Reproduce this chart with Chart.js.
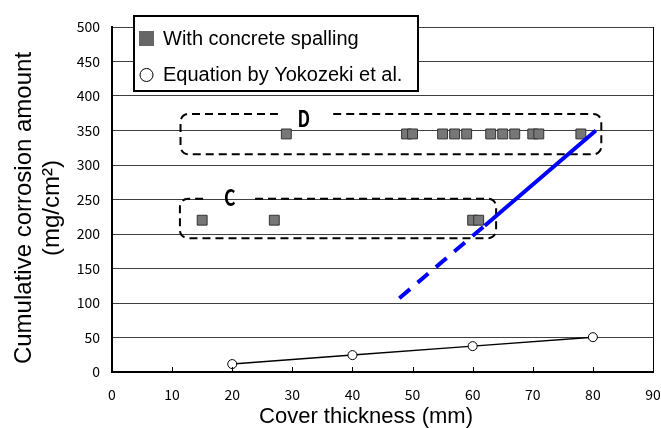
<!DOCTYPE html>
<html>
<head>
<meta charset="utf-8">
<title>Cumulative corrosion amount vs cover thickness</title>
<script src="https://cdn.jsdelivr.net/npm/chart.js@4/dist/chart.umd.min.js"></script>
<style>
  html, body { margin: 0; padding: 0; background: #fff; }
  #wrap { width: 661px; height: 428px; }
</style>
</head>
<body>
<div id="wrap"><canvas id="chart" width="661" height="428"></canvas></div>
<script>
// data
const spallingCX = [15, 27, 60, 61];
const spallingCY = [220, 220, 220, 220];
const spallingDX = [29, 49, 50, 55, 57, 59, 63, 65, 67, 70, 71, 78];
const spallingDY = [345, 345, 345, 345, 345, 345, 345, 345, 345, 345, 345, 345];
const yokozekiX = [20, 40, 60, 80];
const yokozekiY = [11.5, 24.5, 37.5, 50.5];
const trendDashedX = [47.8, 62];
const trendDashedY = [107, 212];
const trendSolidX = [62, 80.5];
const trendSolidY = [212, 350];
const xTicks = [0, 10, 20, 30, 40, 50, 60, 70, 80, 90];
const yTicks = [0, 50, 100, 150, 200, 250, 300, 350, 400, 450, 500];

// dashed group outlines (data units)
const groupC = { label: 'C', x: [11.3, 63.9], y: [194, 251], gap: [15.2, 23.8], at: [19.6, 252] };
const groupD = { label: 'D', x: [11.4, 81.4], y: [315.5, 374], gap: [27.6, 36.8], at: [31.9, 367] };

const legendItems = ['With concrete spalling', 'Equation by Yokozeki et al.'];
const xTitle = 'Cover thickness (mm)';
const yTitle = ['Cumulative corrosion amount', '(mg/cm\u00B2)'];

const tickFont = "'Noto Sans CJK JP', 'Liberation Sans', sans-serif";
const textFont = "'Liberation Sans', Arial, sans-serif";

const pts = (xs, ys) => xs.map((x, i) => ({ x, y: ys[i] }));

const groupsPlugin = {
  id: 'groups',
  beforeDatasetsDraw(chart) {
    const { ctx, scales: { x, y } } = chart;
    ctx.save();
    ctx.strokeStyle = '#000';
    ctx.lineWidth = 2;
    ctx.setLineDash([8, 5]);
    [groupC, groupD].forEach((g) => {
      const l = x.getPixelForValue(g.x[0]);
      const r = x.getPixelForValue(g.x[1]);
      const t = y.getPixelForValue(g.y[1]);
      const b = y.getPixelForValue(g.y[0]);
      const g0 = x.getPixelForValue(g.gap[0]);
      const g1 = x.getPixelForValue(g.gap[1]);
      const rad = 8;
      ctx.beginPath();
      ctx.moveTo(g1, t);
      ctx.arcTo(r, t, r, b, rad);
      ctx.arcTo(r, b, l, b, rad);
      ctx.arcTo(l, b, l, t, rad);
      ctx.arcTo(l, t, g0, t, rad);
      ctx.lineTo(g0, t);
      ctx.stroke();
    });
    ctx.setLineDash([]);
    ctx.fillStyle = '#000';
    ctx.font = "bold 22px " + tickFont;
    ctx.textAlign = 'center';
    ctx.textBaseline = 'middle';
    [groupC, groupD].forEach((g) => {
      ctx.save();
      ctx.translate(x.getPixelForValue(g.at[0]), y.getPixelForValue(g.at[1]));
      ctx.scale(0.8, 1);
      ctx.fillText(g.label, 0, 0);
      ctx.restore();
    });
    ctx.restore();
  },
};

const framePlugin = {
  id: 'frame',
  afterDraw(chart) {
    const { ctx, chartArea: a, scales: { x } } = chart;
    ctx.save();
    ctx.strokeStyle = '#000';
    ctx.lineWidth = 1;
    // right edge of plot
    ctx.beginPath();
    ctx.moveTo(Math.round(a.right) + 0.5, a.top);
    ctx.lineTo(Math.round(a.right) + 0.5, a.bottom);
    ctx.stroke();
    // inward x ticks
    x.ticks.forEach((t, i) => {
      const px = Math.round(x.getPixelForTick(i)) + 0.5;
      ctx.beginPath();
      ctx.moveTo(px, a.bottom);
      ctx.lineTo(px, a.bottom - 5);
      ctx.stroke();
    });

    // axis titles
    ctx.fillStyle = '#000';
    ctx.font = '22px ' + textFont;
    ctx.textAlign = 'center';
    ctx.textBaseline = 'alphabetic';
    ctx.fillText(xTitle, 366, 423);
    ctx.save();
    ctx.translate(24, 208);
    ctx.rotate(-Math.PI / 2);
    ctx.font = '24px ' + textFont;
    ctx.textBaseline = 'middle';
    ctx.fillText(yTitle[0], 0, 0);
    ctx.fillText(yTitle[1], 0, 28);
    ctx.restore();

    // legend box
    ctx.fillStyle = '#fff';
    ctx.fillRect(134, 16, 284, 75);
    ctx.lineWidth = 2;
    ctx.strokeRect(134, 16, 284, 75);
    ctx.fillStyle = '#666';
    ctx.fillRect(139, 31, 15, 15);
    ctx.lineWidth = 1;
    ctx.fillStyle = '#fff';
    ctx.beginPath();
    ctx.arc(146.5, 75, 6.5, 0, Math.PI * 2);
    ctx.fill();
    ctx.stroke();
    ctx.fillStyle = '#000';
    ctx.font = '20px ' + textFont;
    ctx.textAlign = 'left';
    ctx.textBaseline = 'middle';
    ctx.fillText(legendItems[0], 163, 39);
    ctx.fillText(legendItems[1], 163, 75);
    ctx.restore();
  },
};

new Chart(document.getElementById('chart'), {
  type: 'scatter',
  data: {
    datasets: [
      {
        label: 'Trend (extrapolated)',
        data: pts(trendDashedX, trendDashedY),
        showLine: true,
        borderColor: '#0000ff',
        borderWidth: 4,
        borderDash: [14, 10],
        pointRadius: 0,
      },
      {
        label: 'Trend',
        data: pts(trendSolidX, trendSolidY),
        showLine: true,
        borderColor: '#0000ff',
        borderWidth: 4,
        pointRadius: 0,
      },
      {
        label: legendItems[0],
        data: pts(spallingCX, spallingCY).concat(pts(spallingDX, spallingDY)),
        pointStyle: 'rect',
        pointRadius: 7,
        backgroundColor: '#777',
        borderColor: '#333',
        borderWidth: 1,
      },
      {
        label: legendItems[1],
        data: pts(yokozekiX, yokozekiY),
        showLine: true,
        borderColor: '#000',
        borderWidth: 1.5,
        pointStyle: 'circle',
        pointRadius: 4.5,
        backgroundColor: '#fff',
        pointBorderColor: '#000',
        pointBorderWidth: 1,
      },
    ],
  },
  options: {
    responsive: false,
    animation: false,
    devicePixelRatio: 1,
    layout: { padding: { top: 27, right: 8, left: 0, bottom: 0 } },
    plugins: { legend: { display: false }, tooltip: { enabled: false } },
    scales: {
      x: {
        type: 'linear',
        min: 0,
        max: 90,
        afterBuildTicks: (s) => { s.ticks = xTicks.map((v) => ({ value: v })); },
        afterFit: (s) => { s.height = 56; s.paddingLeft = 0; s.paddingRight = 0; },
        grid: { display: false },
        border: { display: true, color: '#000', width: 2 },
        ticks: { color: '#000', padding: 6, maxRotation: 0, font: { family: tickFont, size: 14 } },
      },
      y: {
        type: 'linear',
        min: 0,
        max: 500,
        afterBuildTicks: (s) => { s.ticks = yTicks.map((v) => ({ value: v })); },
        afterFit: (s) => { s.width = 112; s.paddingTop = 0; s.paddingBottom = 0; },
        grid: { color: '#404040', lineWidth: 1, drawTicks: false },
        border: { display: true, color: '#000', width: 2 },
        ticks: { color: '#000', padding: 12, font: { family: tickFont, size: 14 } },
      },
    },
  },
  plugins: [groupsPlugin, framePlugin],
});
</script>
</body>
</html>
